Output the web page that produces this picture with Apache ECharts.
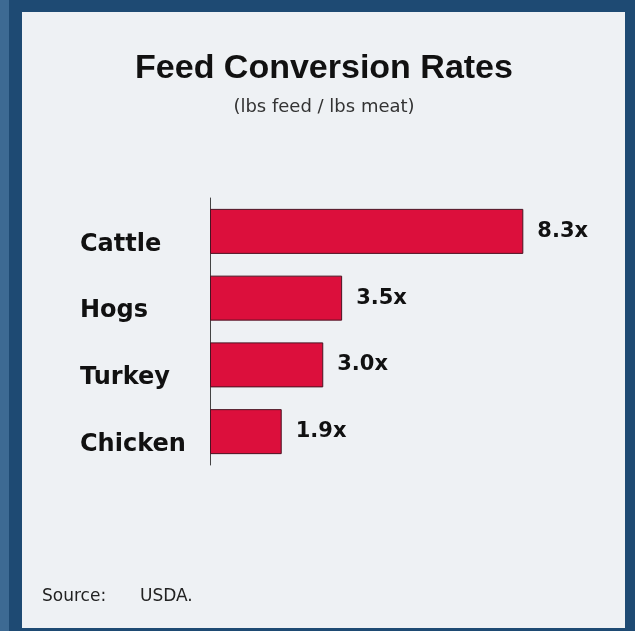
<!DOCTYPE html>
<html>
<head>
<meta charset="utf-8">
<script src="https://cdn.jsdelivr.net/npm/echarts@6/dist/echarts.min.js"></script>
<style>
html,body{margin:0;padding:0;background:#1e4a73;}
#c{width:635px;height:631px;}
</style>
</head>
<body>
<div id="c"></div>
<script>
const categories = ["Cattle", "Hogs", "Turkey", "Chicken"];
const values = [8.3, 3.5, 3.0, 1.9];
const titleText = "Feed Conversion Rates";
const subtitleText = "(lbs feed / lbs meat)";
const sourceLabel = "Source:";
const sourceText = "USDA.";

const chart = echarts.init(document.getElementById('c'), null, {renderer: 'canvas'});
chart.setOption({
  backgroundColor: '#1e4a73',
  animation: false,
  graphic: [
    {type: 'rect', shape: {x: 0, y: 0, width: 9, height: 631}, style: {fill: '#3d6a93'}, z: 0},
    {type: 'rect', shape: {x: 22, y: 12, width: 603, height: 616}, style: {fill: '#eef1f4'}, z: 0},
    {type: 'text', left: 42, top: 588, style: {text: sourceLabel, font: '17px "DejaVu Sans", sans-serif', fill: '#222'}},
    {type: 'text', left: 140, top: 588, style: {text: sourceText, font: '17px "DejaVu Sans", sans-serif', fill: '#222'}}
  ],
  title: {
    text: titleText,
    subtext: subtitleText,
    left: 319,
    textAlign: 'center',
    top: 47,
    itemGap: 12,
    textStyle: {fontFamily: '"Liberation Sans", Arial, sans-serif', fontWeight: 'bold', fontSize: 34, color: '#111'},
    subtextStyle: {fontFamily: '"DejaVu Sans", sans-serif', fontSize: 18, color: '#333'}
  },
  grid: {left: 210, right: 47.5, top: 198, bottom: 166, containLabel: false},
  xAxis: {
    type: 'value', min: 0, max: 10, show: false
  },
  yAxis: {
    type: 'category',
    data: categories,
    inverse: true,
    axisLine: {show: true, lineStyle: {color: '#444', width: 1}},
    axisTick: {show: false},
    splitLine: {show: false},
    axisLabel: {
      margin: 130,
      align: 'left',
      verticalAlign: 'top',
      lineHeight: 26,
      fontFamily: '"DejaVu Sans", sans-serif',
      fontWeight: 'bold',
      fontSize: 24,
      color: '#111'
    }
  },
  series: [{
    type: 'bar',
    data: values,
    barWidth: 45,
    itemStyle: {color: '#dc0f3c', borderColor: '#4a1322', borderWidth: 1},
    label: {
      show: true,
      position: 'right',
      distance: 14,
      offset: [0, 0],
      formatter: p => p.value.toFixed(1) + 'x',
      fontFamily: '"DejaVu Sans", sans-serif',
      fontWeight: 'bold',
      fontSize: 21,
      color: '#111'
    }
  }]
});
</script>
</body>
</html>
